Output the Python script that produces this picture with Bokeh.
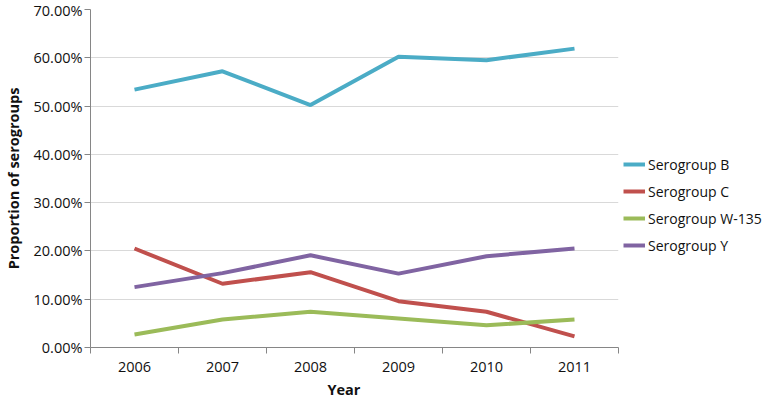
from bokeh.plotting import figure
from bokeh.models import FixedTicker, NumeralTickFormatter, Legend, LegendItem, Range1d, Title
from bokeh.embed import file_html
from bokeh.resources import INLINE

years = ["2006", "2007", "2008", "2009", "2010", "2011"]
serogroup_b = [0.534, 0.572, 0.502, 0.602, 0.595, 0.619]
serogroup_c = [0.205, 0.132, 0.156, 0.096, 0.074, 0.023]
serogroup_w135 = [0.027, 0.058, 0.074, 0.060, 0.046, 0.058]
serogroup_y = [0.125, 0.154, 0.191, 0.153, 0.189, 0.205]
y_ticks = [0.0, 0.1, 0.2, 0.3, 0.4, 0.5, 0.6, 0.7]

series = [
    ("Serogroup B", serogroup_b, "#4BACC6"),
    ("Serogroup C", serogroup_c, "#C0504D"),
    ("Serogroup W-135", serogroup_w135, "#9BBB59"),
    ("Serogroup Y", serogroup_y, "#8064A2"),
]

FONT = "Open Sans"
TXT = "#111111"
xs = [i + 0.5 for i in range(len(years))]

p = figure(output_backend="svg", toolbar_location=None,
           x_range=Range1d(0, len(years)), y_range=Range1d(0, 0.7),
           frame_width=528, frame_height=338,
           min_border_left=82, min_border_top=9, min_border_bottom=10, min_border_right=146)
p.outline_line_color = None
p.background_fill_color = "white"

items = []
for name, vals, col in series:
    r = p.line(xs, vals, line_color=col, line_width=4)
    items.append(LegendItem(label=name, renderers=[r]))

# x axis: labels at category centres, tick marks at category boundaries
p.xaxis.ticker = FixedTicker(ticks=xs, minor_ticks=list(range(len(years) + 1)))
p.xaxis.major_label_overrides = {x: y for x, y in zip(xs, years)}
p.xaxis.major_tick_out = 0
p.xaxis.major_tick_in = 0
p.xaxis.minor_tick_out = 6
p.xaxis.minor_tick_in = 0
p.xaxis.minor_tick_line_color = "#868686"
p.xaxis.axis_line_color = "#868686"
p.xaxis.major_label_text_font = FONT
p.xaxis.major_label_text_font_size = "14.5px"
p.xaxis.major_label_text_color = TXT
p.xaxis.major_label_standoff = 8

# x axis title (sits left of the frame centre in the original)
p.add_layout(Title(text="Year", align="left", offset=237, standoff=6,
                   text_font=FONT, text_font_style="bold", text_font_size="14.5px",
                   text_color=TXT), "below")

p.yaxis.ticker = FixedTicker(ticks=y_ticks, minor_ticks=[])
p.yaxis.formatter = NumeralTickFormatter(format="0.00%")
p.yaxis.major_tick_out = 6
p.yaxis.major_tick_in = 0
p.yaxis.major_tick_line_color = "#868686"
p.yaxis.axis_line_color = "#868686"
p.yaxis.major_label_text_font = FONT
p.yaxis.major_label_text_font_size = "14.5px"
p.yaxis.major_label_text_color = TXT
p.yaxis.major_label_standoff = 2
p.yaxis.axis_label = "Proportion of serogroups"
p.yaxis.axis_label_text_font = FONT
p.yaxis.axis_label_text_font_style = "bold"
p.yaxis.axis_label_text_font_size = "14.5px"
p.yaxis.axis_label_text_color = TXT
p.yaxis.axis_label_standoff = 8

p.xgrid.grid_line_color = None
p.ygrid.ticker = FixedTicker(ticks=y_ticks)
p.ygrid.grid_line_color = "#d9d9d9"

legend = Legend(items=items, location=(5, 92), padding=0, margin=0,
                border_line_color=None, background_fill_alpha=0,
                glyph_width=22, glyph_height=20, label_height=20, spacing=7,
                label_standoff=3, label_text_font=FONT, label_text_font_size="14px",
                label_text_color=TXT)
p.add_layout(legend, "right")

open("out.html", "w").write(file_html(p, INLINE))
